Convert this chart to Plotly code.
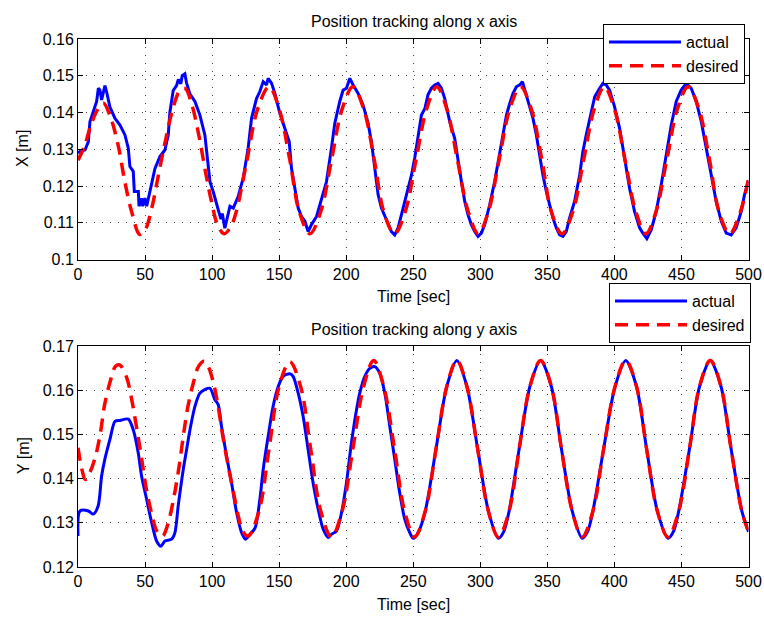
import plotly.graph_objects as go

# ---------------- data ----------------
t_x_actual = [0, 2, 5.2, 7.7, 8.9, 11.4, 13.9, 15.2, 16.4, 17.6, 18.9, 20.1, 21.4, 23.8, 27.6, 31.3, 35,
              37.5, 38.7, 41.2, 42, 45, 45.5, 47.4, 48.3, 49.9, 51.2, 53.7, 57.4, 61.1, 64.8, 67.3, 68.5,
              71, 73.5, 74.8, 76.7, 77.7, 79.7, 81, 83.5, 87.2, 90.9, 94.6, 97.1, 98.4, 100.8, 103.3,
              104.6, 106.6, 107.6, 109.5, 111.5, 113.3, 115.8, 119.5, 123.2, 126.9, 129.4, 133.1, 135.6,
              138.1, 140.6, 141.8, 144.3, 146.8, 150.5, 154.2, 157.5, 159.2, 161.7, 164.2, 166.7, 169.2,
              171.6, 174.1, 177.9, 181.6, 185.3, 189, 191.5, 195.2, 197.7, 200.2, 202.7, 205.2, 208.9,
              212.6, 216.3, 218.8, 221.3, 223.8, 226.3, 228.8, 231.2, 233.7, 236.2, 238.7, 241.2, 244.9,
              248.7, 251.1, 253.6, 256.1, 258.6, 261, 263.5, 266, 268.5, 271, 273.5, 277.2, 280.9, 283.4,
              285.9, 288.4, 290.8, 293.3, 295.8, 298.3, 300.8, 303.3, 307, 310.7, 314.5, 317, 319.5, 322,
              324.4, 326.9, 329.4, 331.4, 333.1, 335.6, 339.3, 341.8, 344.3, 346.7, 349.2, 351.7, 354.2,
              356.7, 359.2, 361.6, 364.1, 366.6, 370.3, 374.1, 376.5, 379, 381.5, 385.3, 389, 391.4,
              393.9, 396.4, 400.1, 403.9, 407.6, 411.3, 415, 418.8, 421.2, 424.2, 427.5, 431.2, 434.9,
              438.7, 442.4, 446.1, 449.8, 453.6, 457.3, 461, 464.8, 468.5, 472.2, 475.9, 479.7, 483.4,
              487.1, 490.8, 494.6, 497, 500]
x_actual = [0.129, 0.1295, 0.1298, 0.132, 0.1375, 0.140, 0.143, 0.1466, 0.146, 0.1434, 0.1455, 0.1473,
            0.1455, 0.1415, 0.1384, 0.1366, 0.1339, 0.1303, 0.1253, 0.124, 0.1185, 0.1185, 0.1145, 0.1167,
            0.1145, 0.1167, 0.1145, 0.1185, 0.1248, 0.128, 0.1298, 0.1339, 0.140, 0.146, 0.1473, 0.149,
            0.1478, 0.150, 0.1505, 0.148, 0.145, 0.143, 0.1393, 0.1339, 0.1266, 0.1212, 0.1185, 0.1148,
            0.1135, 0.111, 0.1125, 0.1085, 0.1118, 0.1145, 0.114, 0.1172, 0.1222, 0.1303, 0.1384, 0.1438,
            0.1457, 0.1484, 0.1475, 0.1493, 0.148, 0.1452, 0.1398, 0.1357, 0.1321, 0.1248, 0.119, 0.114,
            0.1117, 0.1104, 0.1076, 0.1095, 0.1117, 0.1167, 0.1212, 0.1303, 0.1371, 0.143, 0.1461, 0.1466,
            0.1493, 0.1475, 0.1452, 0.142, 0.1371, 0.1321, 0.1248, 0.1176, 0.114, 0.1117, 0.1095, 0.1076,
            0.1067, 0.1086, 0.1122, 0.1176, 0.123, 0.1276, 0.1339, 0.1393, 0.141, 0.1448, 0.1466, 0.1475,
            0.1479, 0.1466, 0.1438, 0.1375, 0.133, 0.1266, 0.1212, 0.1158, 0.1122, 0.1095, 0.1076, 0.1063,
            0.1072, 0.1095, 0.1149, 0.1212, 0.1294, 0.1339, 0.1393, 0.1425, 0.1452, 0.147, 0.1475, 0.1484,
            0.1461, 0.143, 0.1384, 0.1339, 0.1276, 0.123, 0.1185, 0.1149, 0.1113, 0.1086, 0.1067, 0.1063,
            0.1076, 0.1113, 0.1158, 0.123, 0.1294, 0.1339, 0.138, 0.1443, 0.1466, 0.1479, 0.1475, 0.1461,
            0.1416, 0.1357, 0.1276, 0.1194, 0.1131, 0.1086, 0.1072, 0.1057, 0.1081, 0.1131, 0.1203, 0.1285,
            0.1366, 0.143, 0.1461, 0.1479, 0.1466, 0.143, 0.1375, 0.1303, 0.123, 0.1158, 0.1104, 0.1072,
            0.1067, 0.1086, 0.1131, 0.1176, 0.1215]

t_x_desired = [0, 5, 10, 15, 19, 24, 30, 35, 40, 46, 50, 55, 60, 65, 70, 76, 80, 85, 90, 95, 100, 104,
               109, 114, 118, 126, 134, 142.5, 150, 158, 165, 173, 181, 189, 197, 205, 213, 221, 228, 236,
               244, 252, 260, 267.5, 275, 283, 291, 298.5, 306, 314, 322, 330, 338, 346, 353, 361, 369,
               377, 385, 392.5, 400, 408, 416, 423.5, 431, 439, 447, 455, 463, 471, 478, 486, 494, 500]
x_desired = [0.127, 0.131, 0.137, 0.141, 0.1425, 0.139, 0.131, 0.121, 0.113, 0.1068, 0.108, 0.114, 0.123,
             0.132, 0.140, 0.146, 0.1465, 0.142, 0.134, 0.124, 0.115, 0.1095, 0.107, 0.109, 0.113, 0.127,
             0.141, 0.147, 0.141, 0.127, 0.113, 0.107, 0.113, 0.127, 0.141, 0.147, 0.141, 0.127, 0.113,
             0.107, 0.113, 0.127, 0.141, 0.147, 0.141, 0.127, 0.113, 0.107, 0.113, 0.127, 0.141, 0.147,
             0.141, 0.127, 0.113, 0.107, 0.113, 0.127, 0.141, 0.147, 0.141, 0.127, 0.113, 0.107, 0.113,
             0.127, 0.141, 0.147, 0.141, 0.127, 0.113, 0.107, 0.113, 0.122]

t_y_actual = [0, 1.5, 7.7, 11.4, 15, 17.6, 20, 23.8, 27.6, 31.3, 37.5, 41.2, 44.9, 47.4, 51.2, 54.9, 58.6,
              61.8, 64.8, 69.8, 72.3, 74.7, 78.5, 81, 83.5, 87.2, 90.9, 94.6, 98.4, 102.1, 104.5, 107,
              110.8, 114.5, 118.3, 122, 125, 128.2, 132, 135.6, 138.1, 141.8, 145.5, 149.3, 153, 158,
              160.4, 164.2, 167.9, 171.6, 175.3, 179.1, 182.8, 186.5, 189, 192.8, 196.5, 200.2, 203.9,
              207.7, 210.1, 213.9, 217.6, 221.3, 225, 228.8, 232.5, 236.2, 239.9, 243.7, 247.4, 250,
              254, 259, 267, 275, 282.5, 290, 298, 306, 313.5, 317.5, 321.5, 329, 337, 345, 353, 360.5,
              368.5, 376, 380, 384, 392, 400.5, 408.5, 416.5, 424, 432, 440, 444, 448, 456, 463.5, 471.5,
              479.5, 487, 495, 500]
y_actual = [0.127, 0.1327, 0.1327, 0.132, 0.1338, 0.1406, 0.1444, 0.1489, 0.153, 0.1532, 0.1535, 0.1511,
            0.1459, 0.1406, 0.1353, 0.1301, 0.1259, 0.1247, 0.1259, 0.1263, 0.1278, 0.1338, 0.1421, 0.1466,
            0.1511, 0.1564, 0.1594, 0.1602, 0.1605, 0.1579, 0.1568, 0.1519, 0.1451, 0.1391, 0.1323, 0.1278,
            0.1263, 0.1274, 0.1288, 0.1353, 0.1421, 0.1496, 0.1564, 0.1609, 0.1632, 0.1638, 0.1632, 0.1594,
            0.1541, 0.1466, 0.1391, 0.1331, 0.1286, 0.1267, 0.1274, 0.1282, 0.1323, 0.1391, 0.1481, 0.1556,
            0.1594, 0.1632, 0.165, 0.1654, 0.1639, 0.1594, 0.1519, 0.1444, 0.1368, 0.1308, 0.1278, 0.1265,
            0.128, 0.1327, 0.1468, 0.1609, 0.1668, 0.1609, 0.1468, 0.1327, 0.1265, 0.128, 0.1327, 0.1468,
            0.1609, 0.1668, 0.1609, 0.1468, 0.1327, 0.1265, 0.128, 0.1327, 0.1468, 0.1609, 0.1668, 0.1609,
            0.1468, 0.1327, 0.1265, 0.128, 0.1327, 0.1468, 0.1609, 0.1668, 0.1609, 0.1468, 0.1327, 0.128]

t_y_desired = [0, 3, 5.5, 9, 13, 16.5, 20, 24, 28, 31, 36, 40, 44, 47.5, 51, 55, 59, 63, 67, 71, 75, 78.5,
               82, 86, 90, 94, 97, 101, 104.5, 108, 112, 116, 119.5, 123, 127, 135, 142.5, 150, 158, 166,
               173.5, 181, 189, 197, 205, 213, 220.5, 228, 236, 243.5, 251, 259, 267, 275, 282.5, 290,
               298, 306, 313.5, 321.5, 329, 337, 345, 353, 360.5, 368.5, 376, 384, 392, 400.5, 408.5,
               416.5, 424, 432, 440, 448, 456, 463.5, 471.5, 479.5, 487, 495, 500]
y_desired = [0.147, 0.142, 0.1398, 0.1415, 0.145, 0.150, 0.157, 0.162, 0.1655, 0.1658, 0.1632, 0.158,
             0.151, 0.1444, 0.1376, 0.132, 0.128, 0.127, 0.1297, 0.135, 0.142, 0.1496, 0.1564, 0.1617,
             0.1655, 0.1666, 0.1655, 0.1617, 0.1564, 0.1496, 0.1429, 0.1368, 0.1316, 0.128, 0.127, 0.1327,
             0.1468, 0.1609, 0.1665, 0.1609, 0.1468, 0.1327, 0.1268, 0.1327, 0.1468, 0.1609, 0.1668,
             0.1609, 0.1468, 0.1327, 0.1268, 0.1327, 0.1468, 0.1609, 0.1668, 0.1609, 0.1468, 0.1327,
             0.1268, 0.1327, 0.1468, 0.1609, 0.1668, 0.1609, 0.1468, 0.1327, 0.1268, 0.1327, 0.1468,
             0.1609, 0.1668, 0.1609, 0.1468, 0.1327, 0.1268, 0.1327, 0.1468, 0.1609, 0.1668, 0.1609,
             0.1468, 0.1327, 0.128]

time_ticks = [0, 50, 100, 150, 200, 250, 300, 350, 400, 450, 500]
x_ticks = [0.1, 0.11, 0.12, 0.13, 0.14, 0.15, 0.16]
x_tick_labels = ["0.1", "0.11", "0.12", "0.13", "0.14", "0.15", "0.16"]
y_ticks = [0.12, 0.13, 0.14, 0.15, 0.16, 0.17]
y_tick_labels = ["0.12", "0.13", "0.14", "0.15", "0.16", "0.17"]

# ---------------- figure ----------------
W, H = 764, 619
FONT = "Liberation Sans, Arial, Helvetica, sans-serif"
BLUE, RED = "#0000FF", "#FF0000"

def px_x(p):
    return p / W

def px_y(p):
    return 1 - p / H

fig = go.Figure()
fig.add_trace(go.Scatter(x=t_x_actual, y=x_actual, name="actual", mode="lines",
                         line=dict(color=BLUE, width=3), xaxis="x", yaxis="y", legend="legend"))
fig.add_trace(go.Scatter(x=t_x_desired, y=x_desired, name="desired", mode="lines",
                         line=dict(color=RED, width=3.5, dash="13px,8px", shape="spline", smoothing=1),
                         xaxis="x", yaxis="y", legend="legend"))
fig.add_trace(go.Scatter(x=t_y_actual, y=y_actual, name="actual", mode="lines",
                         line=dict(color=BLUE, width=3, shape="spline", smoothing=0.8),
                         xaxis="x2", yaxis="y2", legend="legend2"))
fig.add_trace(go.Scatter(x=t_y_desired, y=y_desired, name="desired", mode="lines",
                         line=dict(color=RED, width=3.5, dash="13px,8px", shape="spline", smoothing=1),
                         xaxis="x2", yaxis="y2", legend="legend2"))

xdom = [px_x(78), px_x(748.5)]
axis_common = dict(showline=True, linecolor="black", linewidth=1, mirror="ticks", ticks="inside",
                   ticklen=5, tickcolor="black", showgrid=True, gridcolor="#444444", gridwidth=1,
                   griddash="1px,7px", zeroline=False, automargin=False,
                   tickfont=dict(family=FONT, size=16, color="black"))

fig.update_layout(
    width=W, height=H, margin=dict(l=0, r=0, t=0, b=0, pad=0, autoexpand=False),
    paper_bgcolor="white", plot_bgcolor="white",
    font=dict(family=FONT, size=16, color="black"),
    xaxis=dict(domain=xdom, range=[0, 500], tickvals=time_ticks, anchor="y", **axis_common),
    yaxis=dict(domain=[px_y(259.5), px_y(39)], range=[0.1, 0.16], tickvals=x_ticks,
               ticktext=x_tick_labels, anchor="x", **axis_common),
    xaxis2=dict(domain=xdom, range=[0, 500], tickvals=time_ticks, anchor="y2", **axis_common),
    yaxis2=dict(domain=[px_y(567), px_y(346.3)], range=[0.12, 0.17], tickvals=y_ticks,
                ticktext=y_tick_labels, anchor="x2", **axis_common),
    legend=dict(x=px_x(603), y=px_y(24), xanchor="left", yanchor="top", bgcolor="white",
                bordercolor="black", borderwidth=1, itemwidth=72,
                font=dict(family=FONT, size=16, color="black")),
    legend2=dict(x=px_x(609), y=px_y(283), xanchor="left", yanchor="top", bgcolor="white",
                 bordercolor="black", borderwidth=1, itemwidth=72,
                 font=dict(family=FONT, size=16, color="black")),
    showlegend=True,
)

annotations = [
    dict(text="Position tracking along x axis", x=px_x(413.5), y=px_y(21)),
    dict(text="Position tracking along y axis", x=px_x(413.5), y=px_y(329)),
    dict(text="Time [sec]", x=px_x(413.5), y=px_y(296)),
    dict(text="Time [sec]", x=px_x(413.5), y=px_y(604)),
    dict(text="X [m]", x=px_x(23), y=px_y(149), textangle=-90),
    dict(text="Y [m]", x=px_x(23), y=px_y(456), textangle=-90),
]
for a in annotations:
    fig.add_annotation(xref="paper", yref="paper", showarrow=False, xanchor="center", yanchor="middle",
                       font=dict(family=FONT, size=16, color="black"), **a)

fig.write_html("out.html")
